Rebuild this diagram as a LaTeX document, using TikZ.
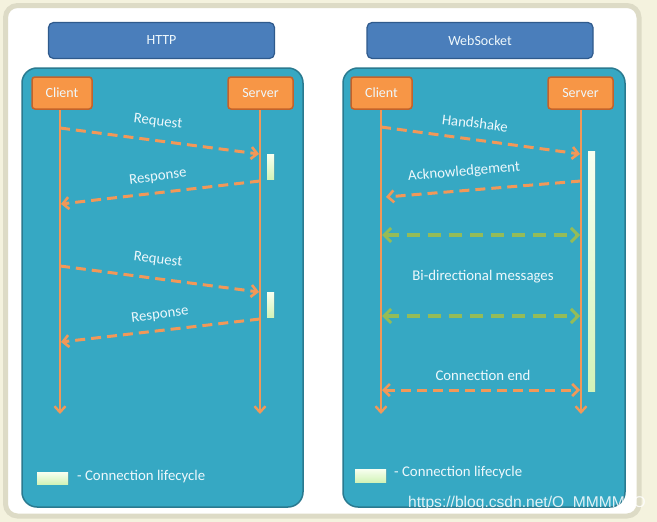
\documentclass[tikz,border=0pt]{standalone}
\usepackage{fontspec}
\setmainfont{Carlito}
\newfontfamily\wmfont{Liberation Sans}
\usetikzlibrary{arrows.meta,shadows}
\definecolor{cream}{HTML}{F4F2DE}
\definecolor{frame}{HTML}{DDDBC6}
\definecolor{teal}{HTML}{36A8C3}
\definecolor{tealdark}{HTML}{2A7A90}
\definecolor{hblue}{HTML}{4A7EBB}
\definecolor{hbluedark}{HTML}{2F5A8C}
\definecolor{orfill}{HTML}{F79646}
\definecolor{ordark}{HTML}{C4622A}
\definecolor{orline}{HTML}{F29858}
\definecolor{grline}{HTML}{94BC58}
\definecolor{txt}{HTML}{EEF8FC}
\definecolor{barA}{HTML}{F8FFF0}
\definecolor{barB}{HTML}{D2F3B8}
\tikzset{
  header/.style={draw=hbluedark,line width=1.2pt,fill=hblue,rounded corners=5pt,
    text=txt,font=\fontsize{14}{16}\selectfont},
  panel/.style={draw=tealdark,line width=1.5pt,fill=teal,rounded corners=15pt},
  actor/.style={draw=ordark,line width=1.5pt,fill=orfill,rounded corners=3pt,
    text=txt,font=\fontsize{14}{16}\selectfont,inner sep=0pt},
  barb/.style={Straight Barb[length=6pt,width=12pt,line width=2.4pt]},
  life/.style={draw=orline,line width=2.5pt,-{Straight Barb[length=6pt,width=11pt,line width=2.4pt]}},
  msg/.style={draw=orline,line width=3pt,dash pattern=on 10pt off 6pt,
    -{Straight Barb[length=6pt,width=12pt,line width=2.6pt]}},
  bimsg/.style={draw=orline,line width=3pt,dash pattern=on 10pt off 6pt,
    {Straight Barb[length=6pt,width=12pt,line width=2.6pt]}-{Straight Barb[length=6pt,width=12pt,line width=2.6pt]}},
  grmsg/.style={draw=grline,line width=3.4pt,dash pattern=on 13pt off 8pt,
    {Straight Barb[length=7pt,width=14pt,line width=3pt]}-{Straight Barb[length=7pt,width=14pt,line width=3pt]}},
  lbl/.style={text=txt,font=\fontsize{14.8}{17}\selectfont,inner sep=0pt},
  bar/.style={top color=barA,bottom color=barB,draw=none,drop shadow={opacity=0.25,shadow xshift=1pt,shadow yshift=-1pt}},
}
\begin{document}
\begin{tikzpicture}[x=1pt,y=-1pt]
\useasboundingbox (0,0) rectangle (657,522);
\fill[cream] (0,0) rectangle (657,522);
\draw[frame,line width=5pt,fill=white,rounded corners=12pt] (5.5,5.5) rectangle (639,516);

% headers
\node[header,minimum width=226pt,minimum height=36pt] (hhttp) at (161.5,40.5) {HTTP};
\node[header,minimum width=226pt,minimum height=36pt] (hws) at (480,40.5) {WebSocket};

% panels
\draw[panel] (22,68) rectangle (303,507);
\draw[panel] (343,68) rectangle (625,507);

% HTTP side
\node[actor,minimum width=60pt,minimum height=32pt] (c1) at (62,93) {Client};
\node[actor,minimum width=65pt,minimum height=32pt] (s1) at (260.5,93) {Server};
\coordinate (c1e) at (60,414);
\coordinate (s1e) at (260,414);
\draw[life] (c1.south -| c1e) -- (c1e);
\draw[life] (s1.south -| s1e) -- (s1e);

\coordinate (a1) at (60,128);  \coordinate (b1) at (259,154);
\coordinate (a2) at (260,181); \coordinate (b2) at (61,204);
\coordinate (a3) at (60,266);  \coordinate (b3) at (259,292);
\coordinate (a4) at (260,319); \coordinate (b4) at (61,342);
\draw[msg] (a1) -- (b1);
\draw[msg] (a2) -- (b2);
\draw[msg] (a3) -- (b3);
\draw[msg] (a4) -- (b4);
\node[lbl,rotate=-7] (l1) at (158,122) {Request};
\node[lbl,rotate=7] (l2) at (158,177) {Response};
\node[lbl,rotate=-7] (l3) at (158,260) {Request};
\node[lbl,rotate=7] (l4) at (160,315) {Response};

\fill[bar] (267,154) rectangle (274,179);
\fill[bar] (267,292) rectangle (274,317);

\fill[bar] (37,472) rectangle (68,484);
\node[lbl,anchor=west] (lg1) at (77,477) {- Connection lifecycle};

% WebSocket side
\node[actor,minimum width=61pt,minimum height=32pt] (c2) at (381.5,93) {Client};
\node[actor,minimum width=65pt,minimum height=32pt] (s2) at (580.5,93) {Server};
\coordinate (c2e) at (381,414);
\coordinate (s2e) at (581,414);
\draw[life] (c2.south -| c2e) -- (c2e);
\draw[life] (s2.south -| s2e) -- (s2e);

\coordinate (w1) at (381,127); \coordinate (v1) at (580,154);
\coordinate (w2) at (581,181); \coordinate (v2) at (386,197);
\coordinate (w3) at (382,235); \coordinate (v3) at (580,235);
\coordinate (w4) at (382,316); \coordinate (v4) at (580,316);
\coordinate (w5) at (382,390); \coordinate (v5) at (580,390);
\draw[msg] (w1) -- (v1);
\draw[msg] (w2) -- (v2);
\draw[grmsg] (w3) -- (v3);
\draw[grmsg] (w4) -- (v4);
\draw[bimsg] (w5) -- (v5);
\node[lbl,rotate=-7] (m1) at (475,123) {Handshake};
\node[lbl,rotate=5] (m2) at (464,172) {Acknowledgement};
\node[lbl] (m3) at (483,277) {Bi-directional messages};
\node[lbl] (m5) at (483,375) {Connection end};

\fill[bar] (588,151) rectangle (595,391);

\fill[bar] (355,469) rectangle (386,482);
\node[lbl,anchor=west] (lg2) at (394,473) {- Connection lifecycle};

\node[anchor=west,inner sep=0pt,text=white,opacity=0.85,font=\wmfont\fontsize{15.6}{18}\selectfont] (wm) at (408,503) {https://blog.csdn.net/O\_MMMM\_O};
\end{tikzpicture}
\end{document}
